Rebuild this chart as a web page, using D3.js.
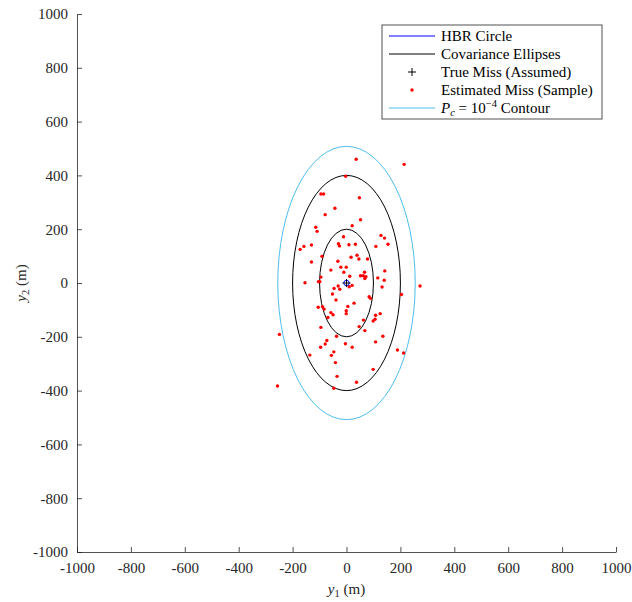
<!DOCTYPE html>
<html>
<head>
<meta charset="utf-8">
<script src="https://cdn.jsdelivr.net/npm/d3@7.9.0/dist/d3.min.js"></script>
<style>
  body { margin: 0; background: #fff; }
  svg { display: block; font-family: "Liberation Serif", "DejaVu Serif", serif; }
</style>
</head>
<body>
<svg id="chart" width="632" height="602"></svg>
<script>
// covariance ellipse semi-axes (1-sigma) and the sigma levels drawn
const sigmaAxes = [100, 200];
const sigmaLevels = [1, 2];
const hbrRadius = 10;
const contourAxes = [255, 508];
const trueMiss = [0, 0];

// estimated miss samples (m)
const missX = [36, 214, -3, -95, -85, 48, -43, -79, 52, 21, -114, -109, 128, 141, -11,
  -158, -172, -130, -30, -26, 9, 33, 154, 109, -91, 17, 39, 46, 78, -130, -32, -21, -1,
  -58, -10, 67, 142, -95, 12, 52, 62, 72, 68, 116,
  -99, -104, -154, 140, 273, -31, 21, 10, -46, -25, 132, -52, 204, 84, 89, -39, 28, 5,
  -105, -89, -83, -1, -1, -58, -50, 125, 108, -69, 106, 99, 63, 47, -95, 68, -249, -37,
  135, -73, -79, -4, 108, -96, 21, -47, -56, -136, 189, 212, -41, 99, -35, 37, -256, -47];
const missY = [460, 441, 397, 331, 331, 317, 278, 254, 235, 213, 207, 192, 177, 167, 172,
  136, 125, 141, 146, 138, 142, 144, 144, 136, 99, 96, 103, 89, 89, 78, 81, 59, 59,
  48, 40, 40, 45, 22, 25, 27, 27, 23, 17, 19,
  5, 5, 1, 10, -11, -11, -9, -14, -20, -23, -15, -41, -43, -51, -57, -63, -75, -87,
  -90, -88, -97, -103, -114, -110, -118, -114, -120, -128, -135, -141, -138, -162, -165, -177, -191, -198,
  -198, -214, -227, -226, -219, -239, -239, -256, -269, -268, -249, -260, -296, -321, -347, -369, -383, -391];

const xTicks = d3.range(-1000, 1001, 200);
const yTicks = d3.range(-1000, 1001, 200);

const legendItems = ["HBR Circle", "Covariance Ellipses", "True Miss (Assumed)", "Estimated Miss (Sample)", "contour"];

const margin = { top: 14, right: 16, bottom: 50, left: 77 };
const width = 632, height = 602;
const axisColor = "#262626";
const serif = "Liberation Serif, DejaVu Serif, serif";
const fs = 15, fsSmall = 10.5;

const svg = d3.select("#chart");

const x = d3.scaleLinear().domain([-1000, 1000]).range([margin.left, width - margin.right]);
const y = d3.scaleLinear().domain([-1000, 1000]).range([height - margin.bottom, margin.top]);

// axes (ticks point inward like MATLAB)
const xAxis = svg.append("g")
  .attr("transform", `translate(0,${height - margin.bottom})`)
  .call(d3.axisBottom(x).tickValues(xTicks).tickSizeInner(-5).tickSizeOuter(0).tickPadding(10));
const yAxis = svg.append("g")
  .attr("transform", `translate(${margin.left},0)`)
  .call(d3.axisLeft(y).tickValues(yTicks).tickSizeInner(-5).tickSizeOuter(0).tickPadding(9));
[xAxis, yAxis].forEach(g => {
  g.attr("font-family", serif).attr("font-size", fs);
  g.select(".domain").attr("stroke", axisColor).attr("stroke-width", 0.8);
  g.selectAll(".tick line").attr("stroke", axisColor).attr("stroke-width", 0.8);
  g.selectAll(".tick text")
    .attr("font-family", serif).attr("fill", axisColor)
    .text(d => d < 0 ? "-" + Math.abs(d) : d);
});

const plot = svg.append("g");

// Pc contour
plot.append("ellipse")
  .attr("cx", x(trueMiss[0])).attr("cy", y(trueMiss[1]))
  .attr("rx", x(contourAxes[0]) - x(0)).attr("ry", y(0) - y(contourAxes[1]))
  .attr("fill", "none").attr("stroke", "#4DBEEE").attr("stroke-width", 1);

// covariance ellipses
plot.selectAll("ellipse.cov")
  .data(sigmaLevels)
  .join("ellipse")
  .attr("class", "cov")
  .attr("cx", x(trueMiss[0])).attr("cy", y(trueMiss[1]))
  .attr("rx", k => x(k * sigmaAxes[0]) - x(0))
  .attr("ry", k => y(0) - y(k * sigmaAxes[1]))
  .attr("fill", "none").attr("stroke", "#000").attr("stroke-width", 1);

// sample points
plot.selectAll("circle.miss")
  .data(d3.zip(missX, missY))
  .join("circle")
  .attr("class", "miss")
  .attr("cx", d => x(d[0])).attr("cy", d => y(d[1]))
  .attr("r", 1.7)
  .attr("fill", "#ff0000");

// HBR circle
plot.append("circle")
  .attr("cx", x(trueMiss[0])).attr("cy", y(trueMiss[1]))
  .attr("r", x(hbrRadius) - x(0))
  .attr("fill", "none").attr("stroke", "#0000ff").attr("stroke-width", 1);

// true miss marker
plot.append("path")
  .attr("transform", `translate(${x(trueMiss[0])},${y(trueMiss[1])})`)
  .attr("d", "M-4,0H4M0,-4V4")
  .attr("stroke", "#000").attr("stroke-width", 1).attr("fill", "none");

// legend
const lg = svg.append("g").attr("transform", "translate(382,25)");
lg.append("rect").attr("width", 220).attr("height", 94)
  .attr("fill", "#fff").attr("stroke", axisColor).attr("stroke-width", 0.8);

const rowY = i => 11 + i * 18;
const rows = lg.selectAll("g.row").data(legendItems).join("g")
  .attr("class", "row")
  .attr("transform", (d, i) => `translate(0,${rowY(i)})`);

rows.each(function(d, i) {
  const g = d3.select(this);
  if (i === 0 || i === 1 || i === 4) {
    g.append("line").attr("x1", 7).attr("x2", 53).attr("y1", 0).attr("y2", 0)
      .attr("stroke", i === 0 ? "#0000ff" : i === 1 ? "#000" : "#4DBEEE").attr("stroke-width", 1);
  } else if (i === 2) {
    g.append("path").attr("transform", "translate(30,0)").attr("d", "M-4,0H4M0,-4V4")
      .attr("stroke", "#000").attr("stroke-width", 1);
  } else {
    g.append("circle").attr("cx", 30).attr("cy", 0).attr("r", 1.7).attr("fill", "#ff0000");
  }
  const t = g.append("text").attr("x", 59).attr("y", 5).attr("font-size", fs).attr("fill", "#000");
  if (i === 4) {
    t.append("tspan").attr("font-style", "italic").text("P");
    t.append("tspan").attr("font-style", "italic").attr("font-size", fsSmall).attr("dy", 3).text("c");
    t.append("tspan").attr("dy", -3).text(" = 10");
    t.append("tspan").attr("font-size", fsSmall).attr("dy", -6).text("\u22124");
    t.append("tspan").attr("dy", 6).text(" Contour");
  } else {
    t.text(d);
  }
});

// axis labels
const xl = svg.append("text")
  .attr("x", x(0)).attr("y", 594)
  .attr("text-anchor", "middle").attr("font-size", fs).attr("fill", "#262626");
xl.append("tspan").attr("font-style", "italic").text("y");
xl.append("tspan").attr("font-size", fsSmall).attr("dy", 3).text("1");
xl.append("tspan").attr("dy", -3).text(" (m)");

const yl = svg.append("text")
  .attr("transform", `translate(26,${y(0)}) rotate(-90)`)
  .attr("text-anchor", "middle").attr("font-size", fs).attr("fill", "#262626");
yl.append("tspan").attr("font-style", "italic").text("y");
yl.append("tspan").attr("font-size", fsSmall).attr("dy", 3).text("2");
yl.append("tspan").attr("dy", -3).text(" (m)");
</script>
</body>
</html>
